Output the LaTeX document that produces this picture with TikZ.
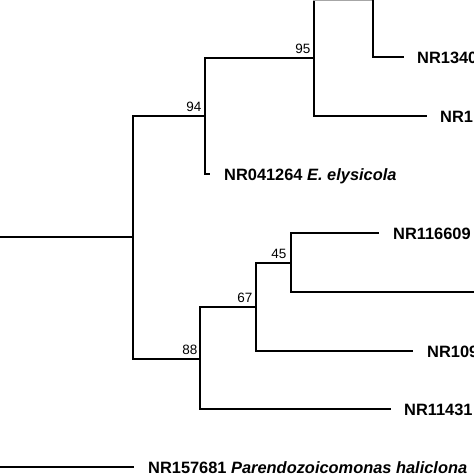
\documentclass[tikz,border=0pt]{standalone}
\usepackage{fontspec}
\setmainfont{Liberation Sans}
\begin{document}
\begin{tikzpicture}[x=1pt,y=-1pt,
  branch/.style={line width=1.8pt, line cap=rect},
  leaflabel/.style={anchor=base west, inner sep=0pt, font=\fontsize{16.4}{18}\selectfont\bfseries},
  boot/.style={anchor=base east, inner sep=0pt, font=\fontsize{13.5}{15}\selectfont}]
\useasboundingbox (0,0) rectangle (474,474);
\clip (0,0) rectangle (474,474);
\fill[white] (0,0) rectangle (474,474);
% internal nodes
\coordinate (root) at (-4,237);
\coordinate (nA) at (133,237);
\coordinate (n94) at (205,116);
\coordinate (n95) at (314,58);
\coordinate (nTop) at (373,0);
\coordinate (nUp) at (373,-57);
\coordinate (n88) at (200,359);
\coordinate (n67) at (256,307);
\coordinate (n45) at (291,263);
% leaf ends
\coordinate (lA) at (403,57);
\coordinate (lB) at (426,116);
\coordinate (lC) at (209,174);
\coordinate (lD) at (378,233);
\coordinate (lE) at (490,292);
\coordinate (lF) at (412,351);
\coordinate (lG) at (390,409);
\coordinate (rootB) at (-4,467);
\coordinate (lH) at (133,467);
% branches
\draw[branch] (root) -- (nA);
\draw[branch] (nA) |- (n94);
\draw[branch] (nA) |- (n88);
\draw[branch] (n94) |- (n95);
\draw[branch] (n94) |- (lC);
\draw[branch] (n95) -- (n95 |- nTop);
\draw[branch, gray!70] (n95 |- nTop) -- (nTop);
\draw[branch] (n95) |- (lB);
\draw[branch] (nTop) |- (lA);
\draw[branch] (nTop) -- (nUp);
\draw[branch] (n88) |- (n67);
\draw[branch] (n88) |- (lG);
\draw[branch] (n67) |- (n45);
\draw[branch] (n67) |- (lF);
\draw[branch] (n45) |- (lD);
\draw[branch] (n45) |- (lE);
\draw[branch] (rootB) -- (lH);
% leaf labels
\node[leaflabel] (tA) at (417,63) {NR1340};
\node[leaflabel] (tB) at (440,122) {NR1};
\node[leaflabel] (tC) at (224,180) {NR041264 \textit{E. elysicola}};
\node[leaflabel] (tD) at (393,239) {NR116609};
\node[leaflabel] (tF) at (427,357) {NR109};
\node[leaflabel] (tG) at (404,415) {NR11431};
\node[leaflabel] (tH) at (148,473) {NR157681 \textit{Parendozoicomonas haliclona}};
% bootstrap values
\node[boot] (b95) at ([shift={(-3.5,-4.5)}]n95) {95};
\node[boot] (b94) at ([shift={(-3.5,-4.5)}]n94) {94};
\node[boot] (b88) at ([shift={(-2.5,-4.5)}]n88) {88};
\node[boot] (b67) at ([shift={(-3.5,-4.5)}]n67) {67};
\node[boot] (b45) at ([shift={(-4.5,-4.5)}]n45) {45};
\end{tikzpicture}
\end{document}
